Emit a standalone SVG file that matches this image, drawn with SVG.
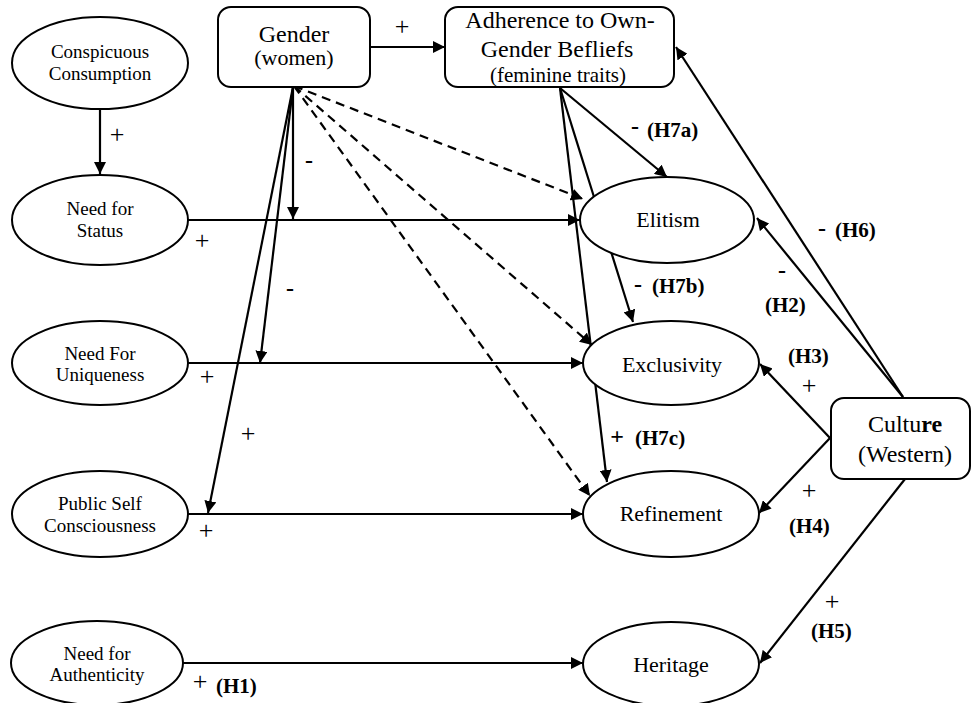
<svg xmlns="http://www.w3.org/2000/svg" width="972" height="703" viewBox="0 0 972 703" font-family="'Liberation Serif', Tinos, 'Times New Roman', 'DejaVu Serif', serif">
<style>
.node{fill:#fff;stroke:#000;stroke-width:2}
.t{font-family:'Liberation Serif', Tinos, 'Times New Roman', 'DejaVu Serif', serif;fill:#000}
.l{font-size:19px;text-anchor:middle}
.r{font-size:22px;text-anchor:middle}
.b{font-size:24px;text-anchor:middle}
.lab{font-size:21px;font-weight:bold}
.pl{font-size:26px;text-anchor:middle}
.mi{font-size:24px;font-weight:bold;text-anchor:middle}
.c{stroke:#000;stroke-width:2.2;fill:none;marker-end:url(#ah)}
.d{stroke-dasharray:9 6}
</style>
<defs>
<marker id="ah" markerUnits="userSpaceOnUse" markerWidth="13" markerHeight="12" refX="12" refY="6" orient="auto">
<path d="M0,0 L12,6 L0,12 z" fill="#000"/>
</marker>
</defs>
<rect width="972" height="703" fill="#fff"/>
<g id="connectors">
<line class="c" x1="100" y1="109" x2="100" y2="174"/>
<line class="c" x1="370" y1="47" x2="445" y2="47"/>
<line class="c" x1="188" y1="220" x2="580" y2="220"/>
<line class="c" x1="188" y1="363" x2="583" y2="363"/>
<line class="c" x1="188" y1="514" x2="583" y2="514"/>
<line class="c" x1="183" y1="663" x2="583" y2="663"/>
<line class="c" x1="293" y1="87" x2="293" y2="219"/>
<line class="c" x1="293" y1="87" x2="260" y2="363"/>
<line class="c" x1="293" y1="87" x2="208" y2="513"/>
<line class="c d" x1="294" y1="86" x2="583" y2="199"/>
<line class="c d" x1="294" y1="86" x2="592" y2="345"/>
<line class="c d" x1="294" y1="86" x2="590" y2="496"/>
<line class="c" x1="560" y1="88" x2="667" y2="177"/>
<line class="c" x1="560" y1="88" x2="633" y2="322"/>
<line class="c" x1="560" y1="88" x2="607" y2="482"/>
<line class="c" x1="903" y1="397" x2="676" y2="47"/>
<line class="c" x1="903" y1="397" x2="757" y2="218"/>
<line class="c" x1="830" y1="438" x2="760" y2="364"/>
<line class="c" x1="830" y1="438" x2="759" y2="513"/>
<line class="c" x1="905" y1="479" x2="760" y2="663"/>
</g>
<g id="labels" class="t">
<text class="pl" x="117" y="143">+</text>
<text class="pl" x="402" y="35">+</text>
<text class="mi" x="309" y="168">-</text>
<text class="pl" x="202" y="249">+</text>
<text class="mi" x="290" y="296">-</text>
<text class="pl" x="207" y="385">+</text>
<text class="pl" x="248" y="442">+</text>
<text class="pl" x="206" y="539">+</text>
<text class="pl" x="200" y="690">+</text>
<text class="lab" x="216" y="693">(H1)</text>
<text class="mi" x="635" y="134">-</text>
<text class="lab" x="647" y="137">(H7a)</text>
<text class="mi" x="638" y="292">-</text>
<text class="lab" x="652" y="293">(H7b)</text>
<text class="mi" x="617" y="444">+</text>
<text class="lab" x="635" y="445">(H7c)</text>
<text class="mi" x="822" y="236">-</text>
<text class="lab" x="835" y="237">(H6)</text>
<text class="mi" x="782" y="278">-</text>
<text class="lab" x="765" y="312">(H2)</text>
<text class="lab" x="788" y="363">(H3)</text>
<text class="pl" x="809" y="394">+</text>
<text class="pl" x="809" y="499">+</text>
<text class="lab" x="789" y="533">(H4)</text>
<text class="pl" x="832" y="610">+</text>
<text class="lab" x="811" y="638">(H5)</text>
</g>
<g id="conspicuous">
<ellipse class="node" cx="100" cy="63" rx="88" ry="46"/>
<text class="t l" x="100" y="58">Conspicuous</text>
<text class="t l" x="100" y="80">Consumption</text>
</g>
<g id="status">
<ellipse class="node" cx="100" cy="220" rx="88" ry="45"/>
<text class="t l" x="100" y="215">Need for</text>
<text class="t l" x="100" y="237">Status</text>
</g>
<g id="uniqueness">
<ellipse class="node" cx="100" cy="363" rx="88" ry="42"/>
<text class="t l" x="100" y="360">Need For</text>
<text class="t l" x="100" y="381">Uniqueness</text>
</g>
<g id="publicself">
<ellipse class="node" cx="100" cy="514" rx="88" ry="43"/>
<text class="t l" x="100" y="510">Public Self</text>
<text class="t l" x="100" y="532">Consciousness</text>
</g>
<g id="authenticity">
<ellipse class="node" cx="97" cy="663" rx="86" ry="42"/>
<text class="t l" x="97" y="660">Need for</text>
<text class="t l" x="97" y="681">Authenticity</text>
</g>
<g id="gender">
<rect class="node" x="218" y="7" width="152" height="80" rx="13"/>
<text class="t b" x="294" y="42">Gender</text>
<text class="t" x="294" y="65" style="font-size:22px;text-anchor:middle">(women)</text>
</g>
<g id="adherence">
<rect class="node" x="445" y="7" width="229" height="80" rx="13"/>
<text class="t b" x="560" y="28">Adherence to Own-</text>
<text class="t b" x="557" y="57">Gender Befliefs</text>
<text class="t" x="558" y="82" style="font-size:21px;text-anchor:middle">(feminine traits)</text>
</g>
<g id="elitism">
<ellipse class="node" cx="667" cy="220" rx="87" ry="43"/>
<text class="t r" x="668" y="227">Elitism</text>
</g>
<g id="exclusivity">
<ellipse class="node" cx="671" cy="363" rx="88" ry="42"/>
<text class="t r" x="672" y="372">Exclusivity</text>
</g>
<g id="refinement">
<ellipse class="node" cx="671" cy="514" rx="88" ry="43"/>
<text class="t r" x="671" y="521">Refinement</text>
</g>
<g id="heritage">
<ellipse class="node" cx="671" cy="664" rx="88" ry="42"/>
<text class="t r" x="671" y="672">Heritage</text>
</g>
<g id="culture">
<rect class="node" x="831" y="398" width="139" height="81" rx="13"/>
<text class="t b" x="905" y="432">Cultu<tspan font-weight="bold">re</tspan></text>
<text class="t b" x="905" y="462">(Western)</text>
</g>
</svg>
